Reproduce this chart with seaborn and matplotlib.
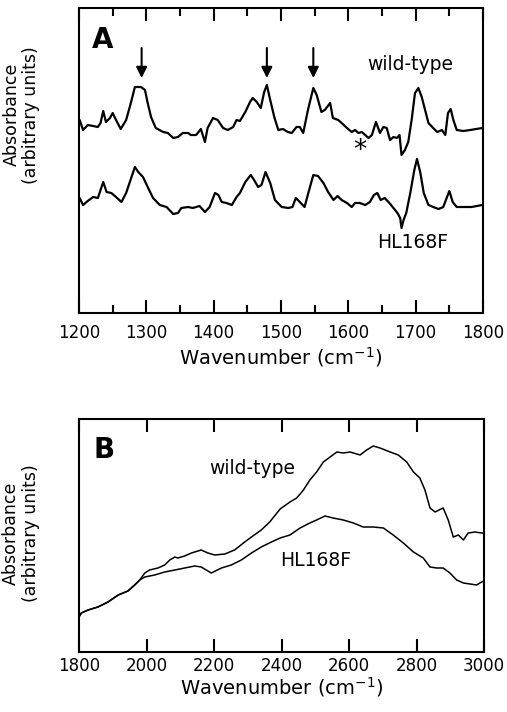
import numpy as np
import pandas as pd
import matplotlib
matplotlib.use('Agg')
import matplotlib.pyplot as plt
import seaborn as sns

# Panel A: 1200-1800 cm-1 difference spectra (arbitrary units)
wn_a_wt = [1201, 1206, 1213, 1221, 1228, 1232, 1236, 1240, 1246, 1250, 1255, 1262, 1270, 1277,
           1283, 1288, 1292, 1298, 1302, 1307, 1314, 1325, 1332, 1340, 1347, 1354, 1362, 1366,
           1374, 1381, 1387, 1391, 1399, 1406, 1414, 1421, 1429, 1434, 1439, 1447, 1454, 1458,
           1464, 1470, 1475, 1479, 1484, 1490, 1496, 1503, 1510, 1516, 1523, 1528, 1533, 1540,
           1548, 1553, 1560, 1565, 1573, 1577, 1585, 1590, 1598, 1605, 1610, 1615, 1620, 1625,
           1630, 1635, 1641, 1647, 1652, 1657, 1662, 1667, 1672, 1676, 1679, 1684, 1689, 1694,
           1699, 1704, 1709, 1714, 1719, 1726, 1732, 1739, 1744, 1748, 1752, 1756, 1761, 1771,
           1781, 1790, 1799]
abs_a_wt = [1.93, 1.83, 1.88, 1.87, 1.86, 1.90, 2.02, 1.91, 1.95, 2.00, 1.93, 1.84, 1.93, 2.10,
            2.26, 2.26, 2.26, 2.23, 2.10, 1.96, 1.85, 1.81, 1.80, 1.75, 1.76, 1.80, 1.80, 1.78,
            1.78, 1.84, 1.71, 1.85, 1.95, 1.93, 1.85, 1.83, 1.86, 1.93, 1.92, 2.01, 2.11, 2.15,
            2.11, 2.05, 2.21, 2.28, 2.13, 1.96, 1.83, 1.84, 1.81, 1.80, 1.86, 1.86, 1.80, 2.03,
            2.25, 2.18, 2.01, 2.03, 2.10, 1.95, 1.93, 1.90, 1.85, 1.81, 1.83, 1.80, 1.81, 1.78,
            1.75, 1.78, 1.91, 1.80, 1.86, 1.85, 1.73, 1.76, 1.75, 1.78, 1.58, 1.63, 1.71, 1.93,
            2.20, 2.25, 2.16, 2.03, 1.90, 1.85, 1.81, 1.83, 1.78, 2.00, 2.04, 1.93, 1.83, 1.82,
            1.83, 1.84, 1.85]

wn_a_mut = [1201, 1206, 1213, 1221, 1228, 1232, 1236, 1241, 1248, 1255, 1263, 1270, 1278, 1283,
            1288, 1295, 1302, 1310, 1320, 1330, 1340, 1347, 1352, 1362, 1369, 1379, 1387, 1394,
            1402, 1407, 1412, 1419, 1427, 1434, 1439, 1447, 1455, 1460, 1466, 1471, 1477, 1484,
            1491, 1501, 1511, 1517, 1522, 1528, 1535, 1541, 1548, 1555, 1563, 1570, 1578, 1584,
            1590, 1598, 1605, 1610, 1617, 1625, 1632, 1638, 1643, 1648, 1654, 1661, 1667, 1673,
            1677, 1679, 1682, 1686, 1692, 1698, 1702, 1707, 1712, 1719, 1726, 1734, 1741, 1746,
            1750, 1755, 1761, 1771, 1783, 1799]
abs_a_mut = [1.15, 1.08, 1.12, 1.16, 1.15, 1.23, 1.31, 1.21, 1.20, 1.16, 1.11, 1.20, 1.36, 1.46,
             1.41, 1.36, 1.26, 1.15, 1.08, 1.06, 0.99, 1.00, 1.05, 1.06, 1.05, 1.07, 1.01, 1.06,
             1.20, 1.18, 1.11, 1.10, 1.08, 1.16, 1.20, 1.31, 1.38, 1.33, 1.26, 1.28, 1.41, 1.30,
             1.13, 1.06, 1.05, 1.06, 1.15, 1.11, 1.06, 1.21, 1.38, 1.37, 1.30, 1.21, 1.13, 1.17,
             1.13, 1.10, 1.06, 1.10, 1.10, 1.08, 1.11, 1.18, 1.20, 1.13, 1.15, 1.10, 1.05, 1.00,
             0.95, 0.85, 0.93, 1.00, 1.20, 1.43, 1.54, 1.40, 1.20, 1.08, 1.06, 1.04, 1.06, 1.15,
             1.22, 1.11, 1.06, 1.06, 1.06, 1.08]

# Panel B: 1800-3000 cm-1 broad band
wn_b_wt = [1800, 1807, 1827, 1856, 1886, 1916, 1945, 1965, 1980, 1995, 2009, 2034, 2054, 2069,
           2084, 2093, 2113, 2133, 2162, 2182, 2202, 2232, 2261, 2291, 2311, 2340, 2365, 2396,
           2425, 2445, 2465, 2484, 2504, 2524, 2544, 2564, 2583, 2603, 2633, 2652, 2672, 2692,
           2722, 2746, 2771, 2791, 2810, 2825, 2840, 2855, 2879, 2894, 2909, 2924, 2939, 2953,
           2973, 2993, 3000]
abs_b_wt = [0.35, 0.39, 0.42, 0.45, 0.50, 0.57, 0.61, 0.67, 0.72, 0.79, 0.82, 0.84, 0.87, 0.92,
            0.95, 0.94, 0.96, 0.99, 1.02, 0.99, 0.97, 0.98, 1.02, 1.10, 1.15, 1.22, 1.30, 1.43,
            1.50, 1.54, 1.62, 1.72, 1.80, 1.90, 1.95, 2.00, 1.99, 2.00, 1.97, 2.02, 2.06, 2.04,
            2.00, 1.97, 1.90, 1.80, 1.74, 1.62, 1.44, 1.40, 1.44, 1.32, 1.15, 1.17, 1.12, 1.19,
            1.20, 1.19, 1.19]

wn_b_mut = [1800, 1807, 1827, 1856, 1886, 1916, 1945, 1965, 1980, 1995, 2024, 2054, 2084, 2113,
            2143, 2162, 2192, 2222, 2251, 2281, 2311, 2340, 2370, 2396, 2425, 2455, 2484, 2504,
            2529, 2553, 2583, 2613, 2642, 2672, 2702, 2731, 2761, 2791, 2820, 2840, 2860, 2879,
            2899, 2919, 2939, 2959, 2978, 2993, 3000]
abs_b_mut = [0.35, 0.39, 0.42, 0.45, 0.50, 0.57, 0.61, 0.67, 0.72, 0.75, 0.77, 0.80, 0.82, 0.84,
             0.86, 0.85, 0.79, 0.84, 0.87, 0.92, 0.99, 1.05, 1.10, 1.14, 1.17, 1.24, 1.29, 1.32,
             1.36, 1.34, 1.32, 1.29, 1.25, 1.25, 1.24, 1.17, 1.09, 1.00, 0.94, 0.85, 0.84, 0.84,
             0.79, 0.72, 0.69, 0.68, 0.67, 0.70, 0.71]

arrow_wn = [1293, 1479, 1548]
ylabel_text = 'Absorbance\n(arbitrary units)'
xlabel_text = 'Wavenumber (cm$^{-1}$)'

sns.set_style('ticks')
plt.rcParams['font.family'] = ['DejaVu Sans']
plt.rcParams['mathtext.default'] = 'regular'
plt.rcParams['text.color'] = 'black'
plt.rcParams['axes.labelcolor'] = 'black'
plt.rcParams['xtick.color'] = 'black'
plt.rcParams['axes.edgecolor'] = 'black'

fig = plt.figure(figsize=(5.07, 7.12), dpi=100)
ax_a = fig.add_axes([79/507, (712-313)/712, 404/507, 305/712])
ax_b = fig.add_axes([79/507, (712-652)/712, 405/507, 233/712])

df_a = pd.concat([pd.DataFrame({'wn': wn_a_wt, 'abs': abs_a_wt, 'sample': 'wild-type'}),
                  pd.DataFrame({'wn': wn_a_mut, 'abs': abs_a_mut, 'sample': 'HL168F'})])
df_b = pd.concat([pd.DataFrame({'wn': wn_b_wt, 'abs': abs_b_wt, 'sample': 'wild-type'}),
                  pd.DataFrame({'wn': wn_b_mut, 'abs': abs_b_mut, 'sample': 'HL168F'})])

sns.lineplot(data=df_a, x='wn', y='abs', units='sample', estimator=None, color='black',
             lw=1.6, ax=ax_a, legend=False)
sns.lineplot(data=df_b, x='wn', y='abs', units='sample', estimator=None, color='black',
             lw=1.1, ax=ax_b, legend=False)

ax_a.set_xlim(1200, 1800)
ax_a.set_ylim(0, 3.05)
ax_b.set_xlim(1800, 3000)
ax_b.set_ylim(0, 2.33)

ax_a.set_xticks(np.arange(1200, 1801, 100))
ax_a.set_xticks(np.arange(1250, 1800, 100), minor=True)
ax_b.set_xticks(np.arange(1800, 3001, 200))

for ax in (ax_a, ax_b):
    ax.set_yticks([])
    for s in ax.spines.values():
        s.set_linewidth(1.5)
        s.set_visible(True)
    ax.tick_params(axis='x', which='major', direction='in', top=True, length=9.5,
                   width=1.5, labelsize=12)
    ax.tick_params(axis='x', which='minor', direction='in', top=True, length=6, width=1.5)
    ax.set_xlabel(xlabel_text, fontsize=14)
    ax.set_ylabel(ylabel_text, fontsize=12.5, linespacing=1.1)

ax_a.tick_params(axis='x', which='major', pad=8)
ax_b.tick_params(axis='x', which='major', pad=3.5)
ax_a.xaxis.set_label_coords(0.5, -0.105)
ax_b.xaxis.set_label_coords(0.5, -0.099)
ax_a.yaxis.set_label_coords(-0.097, 0.65)
ax_b.yaxis.set_label_coords(-0.097, 0.51)

# arrows marking bands
for w in arrow_wn:
    ax_a.annotate('', xy=(w, 2.35), xytext=(w, 2.65),
                  arrowprops=dict(arrowstyle='-|>', color='black', lw=1.5,
                                  mutation_scale=16, shrinkA=0, shrinkB=0))

ax_a.text(1617, 1.62, '*', fontsize=19, ha='center', va='center')
ax_a.text(1692, 2.48, 'wild-type', fontsize=13.5, ha='center', va='center')
ax_a.text(1695, 0.70, 'HL168F', fontsize=13.5, ha='center', va='center')
ax_a.text(0.032, 0.895, 'A', transform=ax_a.transAxes, fontsize=20, fontweight='bold',
          ha='left', va='center')

ax_b.text(2313, 1.83, 'wild-type', fontsize=13.5, ha='center', va='center')
ax_b.text(2502, 0.91, 'HL168F', fontsize=13.5, ha='center', va='center')
ax_b.text(0.035, 0.867, 'B', transform=ax_b.transAxes, fontsize=20, fontweight='bold',
          ha='left', va='center')

fig.savefig('out.png', dpi=100)
